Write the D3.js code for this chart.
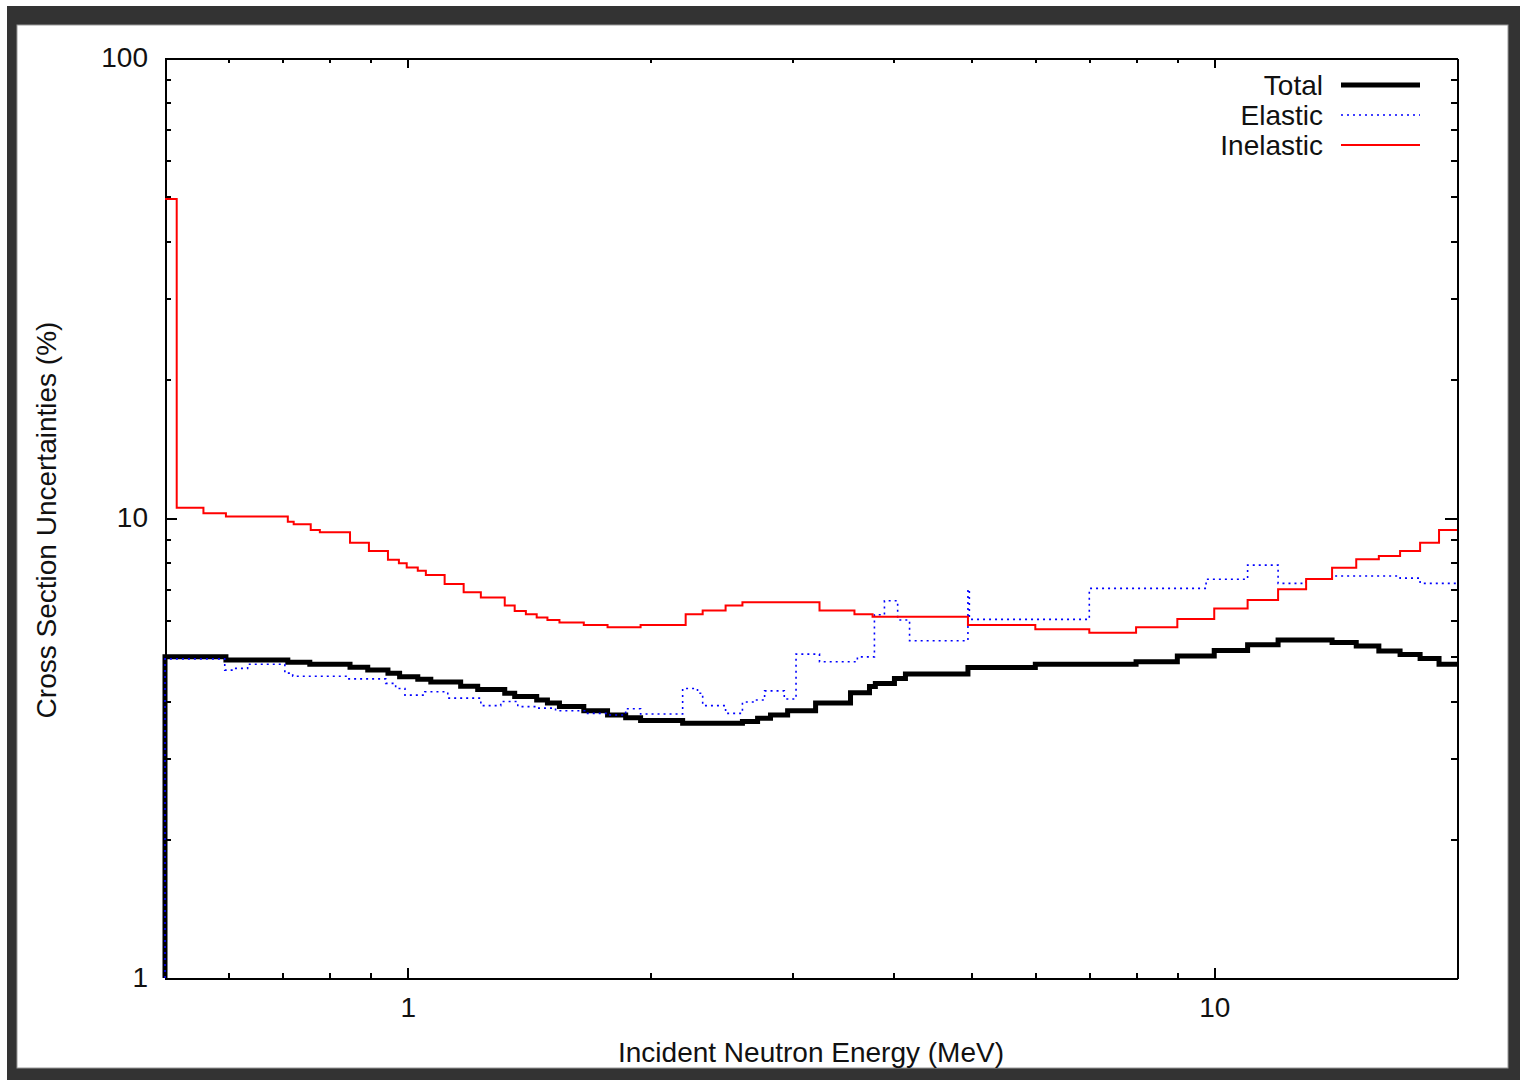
<!DOCTYPE html>
<html>
<head>
<meta charset="utf-8">
<style>
body { margin: 0; background: #fff; }
svg { display: block; font-family: "Liberation Sans", Arial, sans-serif; }
.axis path, .axis line { fill: none; stroke: #000; stroke-width: 2; shape-rendering: crispEdges; }
.axis text { font-size: 28px; fill: #111; }
.legend text { font-size: 28px; fill: #111; }
</style>
</head>
<body>
<script src="https://d3js.org/d3.v7.min.js"></script>
<script>

// bin lower edges (MeV) and uncertainty (%) per bin, last bin ends at eMax
var eMax = 20;

var totalE = [0.5, 0.595, 0.71, 0.756, 0.848, 0.892, 0.945, 0.977, 1.029, 1.068,
  1.163, 1.221, 1.319, 1.357, 1.445, 1.49, 1.542, 1.653, 1.769, 1.863,
  1.944, 2.192, 2.60, 2.715, 2.817, 2.958, 3.204, 3.54, 3.737, 3.80,
  4.013, 4.141, 4.95, 6, 8, 9, 10, 11, 12, 14, 15, 16, 17, 18, 19];
var totalV = [4.99, 4.91, 4.86, 4.81, 4.74, 4.67, 4.60, 4.52, 4.46, 4.40,
  4.31, 4.24, 4.16, 4.09, 4.02, 3.96, 3.89, 3.81, 3.73, 3.68,
  3.63, 3.58, 3.61, 3.67, 3.73, 3.81, 3.96, 4.17, 4.30, 4.37,
  4.48, 4.58, 4.73, 4.81, 4.87, 5.01, 5.15, 5.30, 5.43, 5.36, 5.27, 5.14, 5.05, 4.95, 4.81];

var elasticE = [0.5, 0.593, 0.610, 0.633, 0.704, 0.720, 0.843, 0.939, 0.966, 0.992,
  1.050, 1.121, 1.232, 1.304, 1.369, 1.450, 1.525, 1.657, 1.769, 1.863,
  1.944, 2.192, 2.287, 2.321, 2.478, 2.60, 2.69, 2.77, 2.93, 3.03,
  3.24, 3.61, 3.79, 3.90, 4.05, 4.19, 4.95, 4.97, 7, 9.77,
  11, 12, 13, 14, 17, 18];
var elasticV = [4.94, 4.67, 4.71, 4.81, 4.60, 4.53, 4.47, 4.37, 4.26, 4.12,
  4.19, 4.06, 3.91, 3.99, 3.89, 3.86, 3.81, 3.76, 3.73, 3.85,
  3.75, 4.26, 4.16, 3.91, 3.76, 3.98, 4.02, 4.21, 4.04, 5.06,
  4.87, 4.99, 6.16, 6.61, 6.00, 5.41, 7.00, 6.02, 7.03, 7.36,
  7.90, 7.21, 7.36, 7.48, 7.40, 7.21];

var inelasticE = [0.5, 0.517, 0.558, 0.595, 0.71, 0.722, 0.758, 0.778, 0.848, 0.895,
  0.945, 0.975, 0.997, 1.029, 1.053, 1.111, 1.173, 1.232, 1.319, 1.357,
  1.401, 1.445, 1.49, 1.542, 1.653, 1.769, 1.944, 2.211, 2.321, 2.478,
  2.60, 3.24, 3.58, 3.77, 4.95, 6, 7, 8, 9, 10,
  11, 12, 13, 14, 15, 16, 17, 18, 19];
var inelasticV = [49.4, 10.53, 10.24, 10.07, 9.82, 9.69, 9.42, 9.31, 8.84, 8.48,
  8.11, 7.97, 7.81, 7.68, 7.52, 7.19, 6.90, 6.72, 6.45, 6.28,
  6.18, 6.08, 6.00, 5.93, 5.85, 5.79, 5.85, 6.18, 6.29, 6.45,
  6.56, 6.29, 6.18, 6.10, 5.85, 5.73, 5.63, 5.79, 6.03, 6.36,
  6.63, 7.00, 7.37, 7.80, 8.13, 8.27, 8.48, 8.84, 9.42];

var legendNames = ["Total", "Elastic", "Inelastic"];

var xMajor = [1, 10];
var xMinor = [0.6, 0.7, 0.8, 0.9, 2, 3, 4, 5, 6, 7, 8, 9];
var yMajor = [1, 10, 100];
var yMinor = [2, 3, 4, 5, 6, 7, 8, 9, 20, 30, 40, 50, 60, 70, 80, 90];

var W = 1520, H = 1080;
var margin = {top: 58, right: 63, bottom: 102, left: 165},
    width = W - margin.left - margin.right,
    height = H - margin.top - margin.bottom;

var svg = d3.select("body").append("svg")
    .attr("width", W)
    .attr("height", H);

// dark photo frame
svg.append("rect").attr("x", 7).attr("y", 6).attr("width", W).attr("height", H).attr("fill", "#333");
svg.append("rect").attr("x", 17).attr("y", 25).attr("width", 1491).attr("height", 1043)
    .attr("fill", "#fff").attr("stroke", "#999").attr("stroke-width", 1);

var g = svg.append("g")
    .attr("transform", "translate(" + margin.left + "," + margin.top + ")");

var x = d3.scaleLog().domain([0.5, eMax]).range([0, width]);
var y = d3.scaleLog().domain([1, 100]).range([height, 0]);

g.append("clipPath").attr("id", "clip")
  .append("rect").attr("x", -3).attr("y", -3).attr("width", width + 6).attr("height", height + 6);

// axes: minor ticks first, then major with labels
function fmt(d) { return d3.format("d")(d); }

g.append("g").attr("class", "x axis").attr("transform", "translate(0," + height + ")")
    .call(d3.axisBottom(x).tickValues(xMinor).tickSizeInner(-5).tickSizeOuter(0).tickFormat(""));
g.append("g").attr("class", "x axis").attr("transform", "translate(0," + height + ")")
    .call(d3.axisBottom(x).tickValues(xMajor).tickSizeInner(-10).tickSizeOuter(0).tickPadding(19).tickFormat(fmt));
g.append("g").attr("class", "x axis")
    .call(d3.axisTop(x).tickValues(xMinor).tickSizeInner(-5).tickSizeOuter(0).tickFormat(""));
g.append("g").attr("class", "x axis")
    .call(d3.axisTop(x).tickValues(xMajor).tickSizeInner(-10).tickSizeOuter(0).tickFormat(""));

g.append("g").attr("class", "y axis")
    .call(d3.axisLeft(y).tickValues(yMinor).tickSizeInner(-6).tickSizeOuter(0).tickFormat(""));
g.append("g").attr("class", "y axis")
    .call(d3.axisLeft(y).tickValues(yMajor).tickSizeInner(-12).tickSizeOuter(0).tickPadding(17).tickFormat(fmt));
g.append("g").attr("class", "y axis").attr("transform", "translate(" + width + ",0)")
    .call(d3.axisRight(y).tickValues(yMinor).tickSizeInner(-6).tickSizeOuter(0).tickFormat(""));
g.append("g").attr("class", "y axis").attr("transform", "translate(" + width + ",0)")
    .call(d3.axisRight(y).tickValues(yMajor).tickSizeInner(-12).tickSizeOuter(0).tickFormat(""));

g.selectAll(".axis text").attr("fill", "#111").style("fill", "#111");

// axis titles
svg.append("text")
    .attr("x", margin.left + x(Math.sqrt(0.5 * eMax)) + 0)
    .attr("x", 811)
    .attr("y", 1062)
    .attr("text-anchor", "middle")
    .style("font-size", "28px")
    .style("fill", "#111")
    .text("Incident Neutron Energy (MeV)");

svg.append("text")
    .attr("transform", "translate(56,520) rotate(-90)")
    .attr("text-anchor", "middle")
    .style("font-size", "28px")
    .style("fill", "#111")
    .text("Cross Section Uncertainties (%)");

// step curves
function stepPoints(E, V, fromBottom) {
  var pts = [];
  if (fromBottom) pts.push([E[0], y.domain()[0]]);
  E.forEach(function(e, i) { pts.push([e, V[i]]); });
  pts.push([eMax, V[V.length - 1]]);
  return pts;
}

var line = d3.line()
    .x(function(d) { return x(d[0]); })
    .y(function(d) { return y(d[1]); })
    .curve(d3.curveStepAfter);

var plot = g.append("g").attr("clip-path", "url(#clip)");

var styles = [
  {stroke: "#000", width: 5, dash: null},
  {stroke: "#0000ff", width: 1.6, dash: "2,4"},
  {stroke: "#ff0000", width: 2, dash: null}
];

plot.append("path")
    .datum(stepPoints(totalE, totalV, true))
    .attr("d", line)
    .attr("fill", "none")
    .attr("stroke", styles[0].stroke)
    .attr("stroke-width", styles[0].width);

plot.append("path")
    .datum(stepPoints(elasticE, elasticV, true))
    .attr("d", line)
    .attr("fill", "none")
    .attr("stroke", styles[1].stroke)
    .attr("stroke-width", styles[1].width)
    .attr("stroke-dasharray", styles[1].dash);

plot.append("path")
    .datum(stepPoints(inelasticE, inelasticV, false))
    .attr("d", line)
    .attr("fill", "none")
    .attr("stroke", styles[2].stroke)
    .attr("stroke-width", styles[2].width);

// legend
var legend = g.selectAll(".legend")
    .data(legendNames)
    .enter()
    .append("g")
      .attr("class", "legend")
      .attr("transform", function(d, i) { return "translate(0," + (27 + i * 30) + ")"; });

legend.append("line")
    .attr("x1", width - 116)
    .attr("x2", width - 37)
    .attr("stroke", function(d, i) { return styles[i].stroke; })
    .attr("stroke-width", function(d, i) { return styles[i].width; })
    .attr("stroke-dasharray", function(d, i) { return styles[i].dash; });

legend.append("text")
    .attr("x", width - 134)
    .attr("dy", ".35em")
    .style("text-anchor", "end")
    .text(function(d) { return d; });

</script>
</body>
</html>
